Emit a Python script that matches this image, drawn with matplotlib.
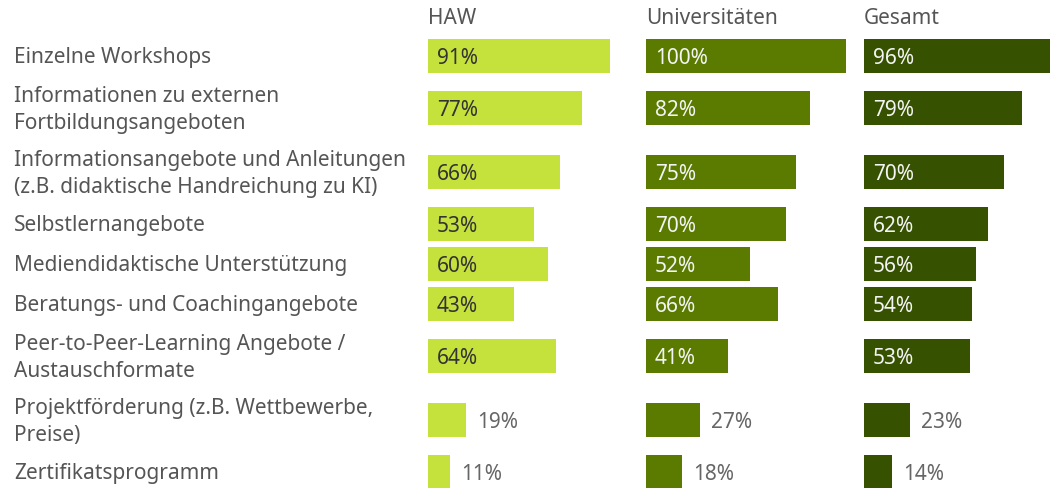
import numpy as np
import matplotlib.pyplot as plt

# data
categories = [
    "Einzelne Workshops",
    "Informationen zu externen\nFortbildungsangeboten",
    "Informationsangebote und Anleitungen\n(z.B. didaktische Handreichung zu KI)",
    "Selbstlernangebote",
    "Mediendidaktische Unterstützung",
    "Beratungs- und Coachingangebote",
    "Peer-to-Peer-Learning Angebote /\nAustauschformate",
    "Projektförderung (z.B. Wettbewerbe,\nPreise)",
    "Zertifikatsprogramm",
]
groups = ["HAW", "Universitäten", "Gesamt"]
haw = [91, 77, 66, 53, 60, 43, 64, 19, 11]
uni = [100, 82, 75, 70, 52, 66, 41, 27, 18]
gesamt = [96, 79, 70, 62, 56, 54, 53, 23, 14]

colors = ["#c5e13c", "#5a7b00", "#365200"]
inner_text = ["#333333", "#f4f4f4", "#f4f4f4"]

W, H = 1050, 489
plt.rcParams['font.family'] = ['Noto Sans', 'DejaVu Sans']
fig = plt.figure(figsize=(W / 100, H / 100), dpi=100)

# row heights depend on number of label lines (in pixels)
heights = np.array([40 if c.count("\n") == 0 else 64 for c in categories])
centers = 37 + np.cumsum(heights) - heights / 2

# labels on the left
lab = fig.add_axes([0, 0, 1, 1])
lab.set_xlim(0, W)
lab.set_ylim(H, 0)
lab.axis('off')
for c, y in zip(categories, centers):
    lab.text(14, y + 1, c, ha='left', va='center', fontsize=15, color='#555555',
             linespacing=1.32)

starts = [428, 646, 864]
for gi, (name, vals) in enumerate(zip(groups, [haw, uni, gesamt])):
    ax = fig.add_axes([starts[gi] / W, 0, 200 / W, 1])
    ax.set_xlim(0, 100)
    ax.set_ylim(H, 0)
    ax.axis('off')
    ax.barh(centers, vals, height=34, color=colors[gi], edgecolor='none')
    ax.text(0, 18, name, ha='left', va='center', fontsize=15, color='#555555')
    for v, y in zip(vals, centers):
        if v >= 30:
            ax.text(4.5, y + 1, f"{v}%", ha='left', va='center', fontsize=15,
                    color=inner_text[gi])
        else:
            ax.text(v + 5.5, y + 1, f"{v}%", ha='left', va='center', fontsize=15,
                    color='#666666')

fig.savefig('out.png', dpi=100)
